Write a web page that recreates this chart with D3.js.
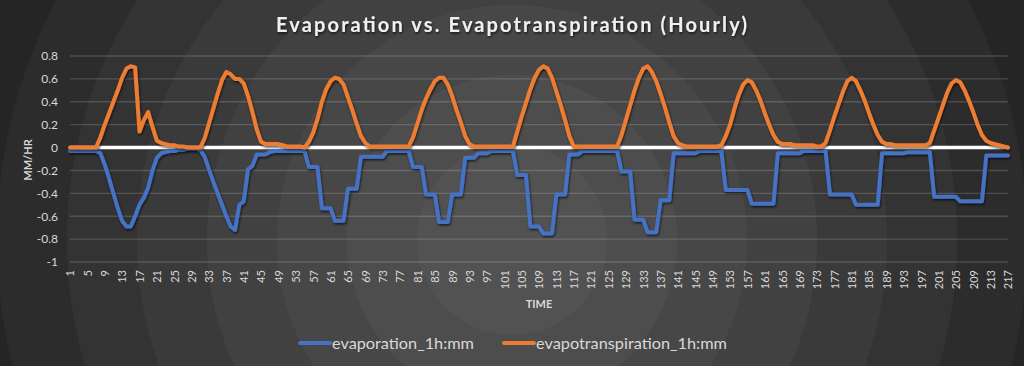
<!DOCTYPE html>
<html><head><meta charset="utf-8">
<script src="https://cdn.jsdelivr.net/npm/d3@7"></script>
<style>
html,body{margin:0;padding:0;background:#2a2a2a;}
svg{display:block;}
</style></head>
<body><svg id="chart" width="1024" height="366"></svg>
<script>
const chartTitle = "Evaporation vs. Evapotranspiration (Hourly)";
const seriesNames = ["evaporation_1h:mm", "evapotranspiration_1h:mm"];
const hours = d3.range(1, 218);
const evaporation = [
  -0.03,-0.03,-0.03,-0.03,-0.03,-0.03,-0.03,
  -0.05,-0.15,-0.27,-0.40,-0.53,-0.64,-0.69,-0.69,-0.60,-0.50,-0.44,-0.35,-0.20,-0.09,-0.05,-0.04,-0.03,-0.03,-0.02,-0.02,-0.01,-0.01,-0.01,
  -0.02,-0.08,-0.19,-0.30,-0.40,-0.50,-0.60,-0.69,-0.72,-0.50,-0.47,-0.19,-0.16,-0.06,-0.06,-0.06,-0.04,-0.03,-0.03,-0.03,-0.03,-0.03,-0.03,-0.03,-0.03,
  -0.17,-0.17,-0.17,-0.53,-0.53,-0.53,-0.64,-0.64,-0.64,-0.36,-0.36,-0.36,-0.08,-0.08,-0.08,-0.08,-0.08,-0.08,-0.03,-0.03,-0.03,-0.03,-0.03,-0.03,
  -0.17,-0.17,-0.17,-0.41,-0.41,-0.41,-0.65,-0.65,-0.65,-0.41,-0.41,-0.41,-0.09,-0.09,-0.09,-0.05,-0.05,-0.05,-0.03,-0.03,-0.03,-0.03,-0.03,-0.03,
  -0.24,-0.24,-0.24,-0.69,-0.69,-0.69,-0.75,-0.75,-0.75,-0.41,-0.41,-0.41,-0.06,-0.06,-0.06,-0.03,-0.03,-0.03,-0.03,-0.03,-0.03,-0.03,-0.03,-0.03,
  -0.21,-0.21,-0.21,-0.63,-0.63,-0.63,-0.74,-0.74,-0.74,-0.46,-0.46,-0.46,-0.05,-0.05,-0.05,-0.05,-0.05,-0.05,-0.03,-0.03,-0.03,-0.03,-0.03,-0.03,
  -0.37,-0.37,-0.37,-0.37,-0.37,-0.37,-0.49,-0.49,-0.49,-0.49,-0.49,-0.49,-0.05,-0.05,-0.05,-0.05,-0.05,-0.05,-0.03,-0.03,-0.03,-0.03,-0.03,-0.03,
  -0.41,-0.41,-0.41,-0.41,-0.41,-0.41,-0.50,-0.50,-0.50,-0.50,-0.50,-0.50,-0.05,-0.05,-0.05,-0.05,-0.05,-0.05,-0.04,-0.04,-0.04,-0.04,-0.04,-0.04,
  -0.43,-0.43,-0.43,-0.43,-0.43,-0.43,-0.47,-0.47,-0.47,-0.47,-0.47,-0.47,-0.07,-0.07,-0.07,-0.07,-0.07,-0.07
];
const evapotranspiration = [
  0,0,0,0,0,0,0,
  0.09,0.20,0.30,0.40,0.50,0.61,0.69,0.71,0.70,0.14,0.24,0.31,0.18,0.06,0.04,0.03,0.02,0.02,0.01,0.01,0,0,0,
  0,0.08,0.21,0.34,0.47,0.59,0.66,0.64,0.60,0.60,0.56,0.45,0.31,0.16,0.05,0.03,0.03,0.03,0.03,0.02,0.01,0.01,0.01,0.01,0,
  0.05,0.13,0.25,0.40,0.51,0.58,0.61,0.60,0.55,0.44,0.33,0.21,0.10,0.04,0.01,0.01,0.01,0.01,0.01,0.01,0.01,0.01,0.01,
  0.01,0.09,0.21,0.33,0.43,0.51,0.58,0.61,0.61,0.55,0.45,0.33,0.22,0.10,0.03,0.01,0.01,0.01,0.01,0.01,0.01,0.01,0.01,0.01,
  0.01,0.14,0.27,0.39,0.51,0.61,0.68,0.71,0.69,0.61,0.49,0.37,0.24,0.10,0.01,0.01,0.01,0.01,0.01,0.01,0.01,0.01,0.01,0.01,
  0.01,0.11,0.24,0.37,0.50,0.61,0.69,0.71,0.66,0.58,0.47,0.35,0.22,0.10,0.04,0.02,0.01,0.01,0.01,0.01,0.01,0.01,0.01,0.01,
  0.02,0.10,0.20,0.34,0.46,0.55,0.59,0.57,0.50,0.41,0.30,0.20,0.11,0.05,0.03,0.03,0.03,0.02,0.02,0.02,0.02,0.02,0.01,0.01,
  0.04,0.15,0.27,0.38,0.49,0.58,0.61,0.58,0.50,0.41,0.30,0.20,0.11,0.05,0.03,0.03,0.02,0.02,0.02,0.02,0.02,0.02,0.02,0.02,
  0.04,0.15,0.26,0.37,0.48,0.56,0.59,0.57,0.50,0.41,0.31,0.20,0.11,0.06,0.04,0.03,0.02,0.01,0
];
const yTicks = [0.8, 0.6, 0.4, 0.2, 0, -0.2, -0.4, -0.6, -0.8, -1];
const yTickLabels = ["0.8","0.6","0.4","0.2","0","-0.2","-0.4","-0.6","-0.8","-1"];
const xTickLabels = hours.filter(h => (h - 1) % 4 === 0);
const yAxisTitle = "MM/HR";
const xAxisTitle = "TIME";

const colors = ["#4472C4", "#ED7D31"];
const textColor = "#d9d9d9";
const font = "Lato, 'Open Sans', sans-serif";
const plot = {left: 70, right: 1008, top: 56, bottom: 262};

const svg = d3.select("#chart");
const defs = svg.append("defs");

// Background radial gradient with ring banding
const rg = defs.append("radialGradient").attr("id", "bg")
  .attr("gradientUnits", "userSpaceOnUse").attr("cx", 512).attr("cy", 240).attr("r", 640);
const ringR = [0, 95, 165, 235, 305, 375, 445, 515, 585, 640];
const ringC = ["#525252", "#4d4d4d", "#474747", "#414141", "#3a3a3a", "#333333", "#2c2c2c", "#252525", "#1f1f1f"];
ringC.forEach((c, i) => {
  rg.append("stop").attr("offset", ringR[i] / 640).attr("stop-color", c);
  rg.append("stop").attr("offset", ringR[i + 1] / 640).attr("stop-color", c);
});
svg.append("rect").attr("width", 1024).attr("height", 366).attr("fill", "url(#bg)");

const sh = defs.append("filter").attr("id", "shadow").attr("filterUnits", "userSpaceOnUse")
  .attr("x", 0).attr("y", 0).attr("width", 1024).attr("height", 366);
sh.append("feDropShadow").attr("dx", 0.8).attr("dy", 1.6).attr("stdDeviation", 1.3)
  .attr("flood-color", "#000").attr("flood-opacity", 0.65);

const x = d3.scalePoint().domain(hours).range([plot.left, plot.right]);
const y = d3.scaleLinear().domain([-1, 0.8]).range([plot.bottom, plot.top]);

// Title
svg.append("text").attr("x", 511.5).attr("y", 32).attr("text-anchor", "middle")
  .attr("font-family", font).attr("font-size", 20).attr("font-weight", "bold")
  .attr("fill", "#f0f0f0").attr("textLength", 471).attr("lengthAdjust", "spacing")
  .attr("filter", "url(#shadow)").text(chartTitle);

// Gridlines
svg.append("g").selectAll("line").data(yTicks).join("line")
  .attr("x1", plot.left).attr("x2", plot.right)
  .attr("y1", d => y(d)).attr("y2", d => y(d))
  .attr("stroke", "rgba(255,255,255,0.16)").attr("stroke-width", 1.4);

// Y axis
const yAxis = svg.append("g").attr("transform", `translate(${plot.left},0)`)
  .call(d3.axisLeft(y).tickValues(yTicks).tickFormat((d, i) => yTickLabels[i]).tickSize(0).tickPadding(12));
yAxis.select(".domain").remove();
yAxis.selectAll("text").attr("font-family", font).attr("font-size", 12).attr("fill", textColor);

// X axis (labels at bottom)
const xAxis = svg.append("g").attr("transform", `translate(0,${plot.bottom})`)
  .call(d3.axisBottom(x).tickValues(xTickLabels).tickSize(0));
xAxis.select(".domain").remove();
xAxis.selectAll("text")
  .attr("transform", "rotate(-90)").attr("x", -8).attr("y", 0).attr("dy", "0.35em")
  .attr("text-anchor", "end").attr("font-family", font).attr("font-size", 11).attr("fill", textColor);

// Zero (category) axis line
svg.append("line").attr("x1", plot.left).attr("x2", plot.right)
  .attr("y1", y(0)).attr("y2", y(0)).attr("stroke", "#ffffff").attr("stroke-width", 3.5);

// Axis titles
svg.append("text").attr("transform", `translate(27,160) rotate(-90)`)
  .attr("text-anchor", "middle").attr("dominant-baseline", "central")
  .attr("font-family", font).attr("font-size", 11).attr("font-weight", "bold")
  .attr("fill", textColor).text(yAxisTitle);
svg.append("text").attr("x", (plot.left + plot.right) / 2).attr("y", 303)
  .attr("text-anchor", "middle").attr("dominant-baseline", "central")
  .attr("font-family", font).attr("font-size", 11).attr("font-weight", "bold")
  .attr("fill", textColor).text(xAxisTitle);

// Series
const line = d3.line().x((d, i) => x(hours[i])).y(d => y(d));
[evaporation, evapotranspiration].forEach((s, k) => {
  svg.append("path").datum(s).attr("d", line)
    .attr("fill", "none").attr("stroke", colors[k]).attr("stroke-width", 4)
    .attr("stroke-linejoin", "round").attr("stroke-linecap", "round")
    .attr("filter", "url(#shadow)");
});

// Legend
const legendItems = [
  {x0: 300, tx: 332, w: 142},
  {x0: 504, tx: 536, w: 191}
];
const lg = svg.append("g");
legendItems.forEach((it, k) => {
  lg.append("line").attr("x1", it.x0).attr("x2", it.x0 + 30).attr("y1", 343).attr("y2", 343)
    .attr("stroke", colors[k]).attr("stroke-width", 4).attr("stroke-linecap", "round");
  lg.append("text").attr("x", it.tx).attr("y", 343).attr("dominant-baseline", "central")
    .attr("font-family", font).attr("font-size", 15).attr("fill", textColor)
    .attr("textLength", it.w).attr("lengthAdjust", "spacingAndGlyphs").text(seriesNames[k]);
});
</script>
</body></html>
